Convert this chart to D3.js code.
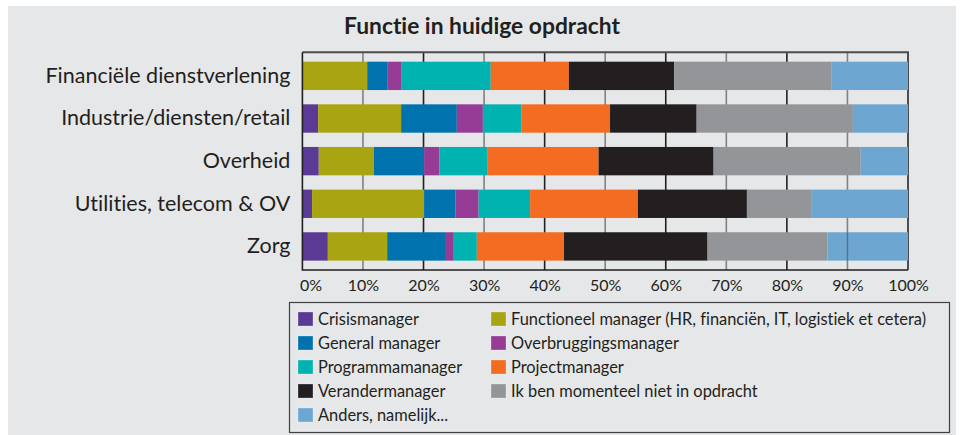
<!DOCTYPE html>
<html>
<head>
<meta charset="utf-8">
<script src="https://cdn.jsdelivr.net/npm/d3@7/dist/d3.min.js"></script>
<style>
  body { margin: 0; background: #fff; }
  svg text { font-family: Lato, "Open Sans", sans-serif; fill: #231f20;
             font-variant-ligatures: none; font-feature-settings: "liga" 0, "dlig" 0; }
</style>
</head>
<body>
<svg id="chart" width="961" height="435"></svg>
<script>
// categories (top to bottom)
var sectors = ["Financiële dienstverlening", "Industrie/diensten/retail", "Overheid",
               "Utilities, telecom & OV", "Zorg"];

// series in stacking order
var functies = ["Crisismanager", "Functioneel manager (HR, financiën, IT, logistiek et cetera)",
                "General manager", "Overbruggingsmanager", "Programmamanager", "Projectmanager",
                "Verandermanager", "Ik ben momenteel niet in opdracht", "Anders, namelijk..."];

var kleuren = ["#5b3a96", "#a9a512", "#0072ae", "#963c96", "#00b3b0", "#f36c22",
               "#231f20", "#949598", "#6da7d1"];

// percentages per sector, same order as functies
var crisis       = [0.0, 2.6, 2.7, 1.6, 4.2];
var functioneel  = [10.7, 13.7, 9.1, 18.5, 9.8];
var general      = [3.3, 9.2, 8.3, 5.2, 9.7];
var overbrugging = [2.3, 4.3, 2.5, 3.8, 1.3];
var programma    = [14.8, 6.4, 8.0, 8.5, 3.8];
var project      = [12.9, 14.6, 18.3, 17.8, 14.4];
var verander     = [17.4, 14.3, 19.0, 18.0, 23.7];
var nietInOpdr   = [26.0, 25.8, 24.3, 10.6, 19.8];
var anders       = [12.6, 9.1, 7.8, 16.0, 13.3];

var xTicks = [0, 10, 20, 30, 40, 50, 60, 70, 80, 90, 100];

var reeksen = [crisis, functioneel, general, overbrugging, programma, project,
               verander, nietInOpdr, anders];

var rows = sectors.map(function(s, i) {
  var r = { sector: s };
  functies.forEach(function(f, j) { r[f] = reeksen[j][i]; });
  return r;
});

var svg = d3.select("#chart");

// panel background
svg.append("rect")
   .attr("x", 8).attr("y", 6)
   .attr("width", 948).attr("height", 429)
   .attr("fill", "#e6e7e8");

var plot = { left: 302.4, right: 908, top: 52.3, bottom: 270 };

var x = d3.scaleLinear().domain([0, 100]).range([plot.left, plot.right]);
var y = d3.scaleBand().domain(sectors)
          .range([plot.top, plot.bottom])
          .paddingInner(0.335).paddingOuter(0.22);

svg.append("text")
   .attr("x", 482).attr("y", 34)
   .attr("text-anchor", "middle")
   .style("font-size", "22.8px").style("font-weight", "bold")
   .text("Functie in huidige opdracht");

// gridlines, alternating grey / black
svg.append("g").selectAll("line")
   .data(xTicks.slice(1, -1))
   .enter().append("line")
   .attr("x1", function(d) { return x(d); })
   .attr("x2", function(d) { return x(d); })
   .attr("y1", plot.top).attr("y2", plot.bottom)
   .attr("stroke", function(d) { return d % 20 === 0 ? "#231f20" : "#808285"; })
   .attr("stroke-width", 1.6);

// top and right frame
svg.append("path")
   .attr("d", "M" + plot.left + "," + plot.top + "H" + plot.right + "V" + plot.bottom)
   .attr("fill", "none").attr("stroke", "#4d4d4f").attr("stroke-width", 2);

var stack = d3.stack().keys(functies);
var series = stack(rows);

svg.append("g").selectAll("g")
   .data(series)
   .enter().append("g")
   .attr("fill", function(d, i) { return kleuren[i]; })
   .selectAll("rect")
   .data(function(d) { return d; })
   .enter().append("rect")
   .attr("x", function(d) { return x(d[0]); })
   .attr("width", function(d) { return x(d[1]) - x(d[0]); })
   .attr("y", function(d) { return y(d.data.sector); })
   .attr("height", y.bandwidth());

// the 90% line shows through the last bar in the original
svg.append("line")
   .attr("x1", x(90)).attr("x2", x(90))
   .attr("y1", y("Zorg")).attr("y2", y("Zorg") + y.bandwidth())
   .attr("stroke", "#4d4d4f").attr("stroke-opacity", 0.6).attr("stroke-width", 1.4);

// x axis
var axisX = d3.axisBottom(x).tickValues(xTicks)
              .tickFormat(function(d) { return d + "%"; })
              .tickSize(0).tickPadding(9.5);
var gx = svg.append("g")
   .attr("transform", "translate(0," + plot.bottom + ")")
   .call(axisX);
gx.select(".domain").remove();
gx.selectAll("text").style("font-size", "16px").attr("fill", "#231f20");
gx.selectAll(".tick").filter(function(d) { return d === 0; })
  .select("text").attr("text-anchor", "start").attr("x", -3);

// y axis labels
var axisY = d3.axisLeft(y).tickSize(0).tickPadding(12);
var gy = svg.append("g")
   .attr("transform", "translate(" + plot.left + ",0)")
   .call(axisY);
gy.select(".domain").remove();
gy.selectAll("text").style("font-size", "21.5px").attr("fill", "#231f20");

// left and bottom axis lines
svg.append("path")
   .attr("d", "M" + plot.left + "," + plot.top + "V" + plot.bottom + "H" + plot.right)
   .attr("fill", "none").attr("stroke", "#231f20").attr("stroke-width", 1.6);

// legend
var legend = svg.append("g");
legend.append("rect")
   .attr("x", 289.5).attr("y", 302.5)
   .attr("width", 660).attr("height", 130)
   .attr("fill", "none").attr("stroke", "#414042").attr("stroke-width", 1.2);

var item = legend.selectAll("g.item")
   .data(functies)
   .enter().append("g")
   .attr("class", "item")
   .attr("transform", function(d, i) {
     return "translate(" + (i % 2 === 0 ? 298 : 491) + "," + (319 + Math.floor(i / 2) * 24) + ")";
   });

item.append("rect")
   .attr("x", 0).attr("y", -7)
   .attr("width", 15).attr("height", 14)
   .attr("fill", function(d, i) { return kleuren[i]; })
   .attr("stroke", "#ffffff").attr("stroke-opacity", 0.35).attr("stroke-width", 0.8);

item.append("text")
   .attr("x", 20).attr("dy", "0.35em")
   .style("font-size", "16.4px")
   .text(function(d) { return d; });
</script>
</body>
</html>
